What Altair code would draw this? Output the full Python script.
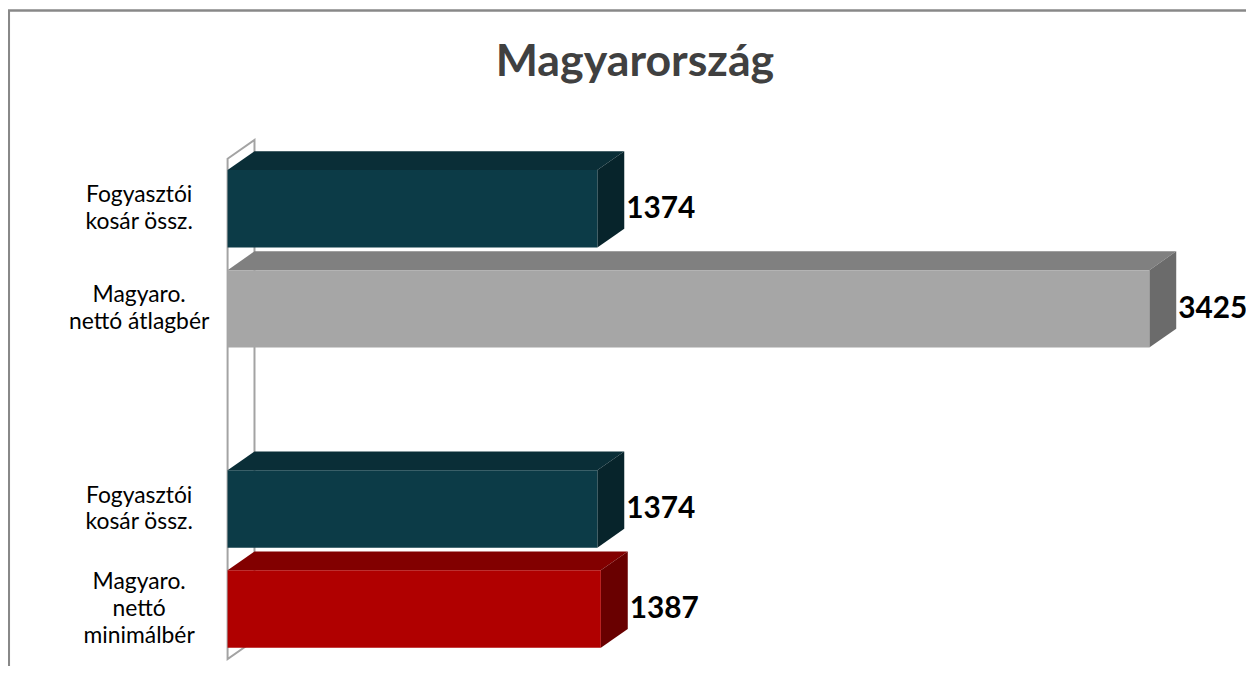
import altair as alt
import pandas as pd

# ---- data ----
title_text = "Magyarország"
labels = ["Fogyasztói\nkosár össz.", "Magyaro.\nnettó átlagbér",
          "Fogyasztói\nkosár össz.", "Magyaro.\nnettó\nminimálbér"]
values = [1374, 3425, 1374, 1387]
rows = [0, 1, 3, 4]          # category row; row 2 is the gap between the two groups
front_colors = ["#0c3b47", "#a6a6a6", "#0c3b47", "#b00000"]
top_colors = ["#0a2e37", "#808080", "#0a2e37", "#820000"]
side_colors = ["#07242b", "#6b6b6b", "#07242b", "#690000"]

# ---- 3D look (style constants) ----
HALF = 0.387   # half bar thickness in row units
DX = 100       # depth in value units
DY = 0.1887    # depth in row units
N_ROWS = 5
ROW_PX = 100.7
LINE_H = 27
W, H = 1246, 660

xs = alt.Scale(domain=[0, 3500], range=[221, 1169], nice=False, zero=False)
ys = alt.Scale(domain=[0, N_ROWS], range=[149.65, 653.15], nice=False, zero=False)

bars = pd.DataFrame({"id": range(len(values)), "label": labels, "v": values, "row": rows,
                     "front": front_colors, "top": top_colors, "side": side_colors})
bars["mid"] = bars["row"] + 0.5
bars["yt"] = bars["mid"] - HALF
bars["yb"] = bars["mid"] + HALF
bars["x0"] = 0
bars["vx"] = bars["v"] + DX
nlines = bars["label"].str.count("\n") + 1
bars["label_y"] = bars["mid"] - (nlines - 1) / 2 * LINE_H / ROW_PX

top_pts, side_pts = [], []
for _, b in bars.iterrows():
    yt, yb, v = b["yt"], b["yb"], b["v"]
    for (x, y, y2) in [(0, yt, yt), (DX, yt, yt - DY), (v, yt, yt - DY), (v + DX, yt - DY, yt - DY)]:
        top_pts.append({"id": b["id"], "x": x, "y": y, "y2": y2, "c": b["top"]})
    for (x, y, y2) in [(v, yb, yt), (v + DX, yb - DY, yt - DY)]:
        side_pts.append({"id": b["id"], "x": x, "y": y, "y2": y2, "c": b["side"]})
top_df = pd.DataFrame(top_pts)
side_df = pd.DataFrame(side_pts)
wall_df = pd.DataFrame({"x": [0, DX], "y": [0, -DY], "y2": [N_ROWS, N_ROWS - DY]})

X = lambda f: alt.X(f, scale=xs, axis=None)
Y = lambda f: alt.Y(f, scale=ys, axis=None, stack=None)

wall = alt.Chart(wall_df).mark_area(orient="vertical", fill="white", stroke="#a3a3a3",
                                    strokeWidth=2).encode(
    x=X("x:Q"), y=Y("y:Q"), y2="y2:Q")

top = alt.Chart(top_df).mark_area(orient="vertical").encode(
    x=X("x:Q"), y=Y("y:Q"), y2="y2:Q", detail="id:N",
    color=alt.Color("c:N", scale=None))

side = alt.Chart(side_df).mark_area(orient="vertical").encode(
    x=X("x:Q"), y=Y("y:Q"), y2="y2:Q", detail="id:N",
    color=alt.Color("c:N", scale=None))

front = alt.Chart(bars).mark_rect().encode(
    x=X("x0:Q"), x2="v:Q", y=Y("yt:Q"), y2="yb:Q",
    color=alt.Color("front:N", scale=None))

value_text = alt.Chart(bars).mark_text(align="left", baseline="middle", dx=2, font="Lato",
                                       fontWeight="bold", fontSize=30, color="black").encode(
    x=X("vx:Q"), y=Y("mid:Q"), text="v:Q")

cat_text = alt.Chart(bars).mark_text(align="center", baseline="middle", lineBreak="\n",
                                     font="Lato", fontSize=23, lineHeight=LINE_H, color="black").encode(
    x=alt.value(132), y=Y("label_y:Q"), text="label:N")

title = alt.Chart(pd.DataFrame({"t": [title_text]})).mark_text(
    align="center", baseline="alphabetic", font="Lato", fontWeight="bold", fontSize=45,
    color="#404040").encode(x=alt.value(631), y=alt.value(66), text="t:N")

one = pd.DataFrame({"k": [0]})
border_left = alt.Chart(one).mark_rule(color="#888888", strokeWidth=2.5).encode(
    x=alt.value(0.8), y=alt.value(0), y2=alt.value(H))
border_top = alt.Chart(one).mark_rule(color="#888888", strokeWidth=2.5).encode(
    x=alt.value(0), x2=alt.value(W), y=alt.value(0.3))

chart = alt.layer(border_left, border_top, title, wall, top, side, front, value_text, cat_text).properties(
    width=W, height=H, padding=0, autosize="none"
).configure_view(stroke=None)

chart.save("out.html", embed_options={"renderer": "svg", "actions": False})
